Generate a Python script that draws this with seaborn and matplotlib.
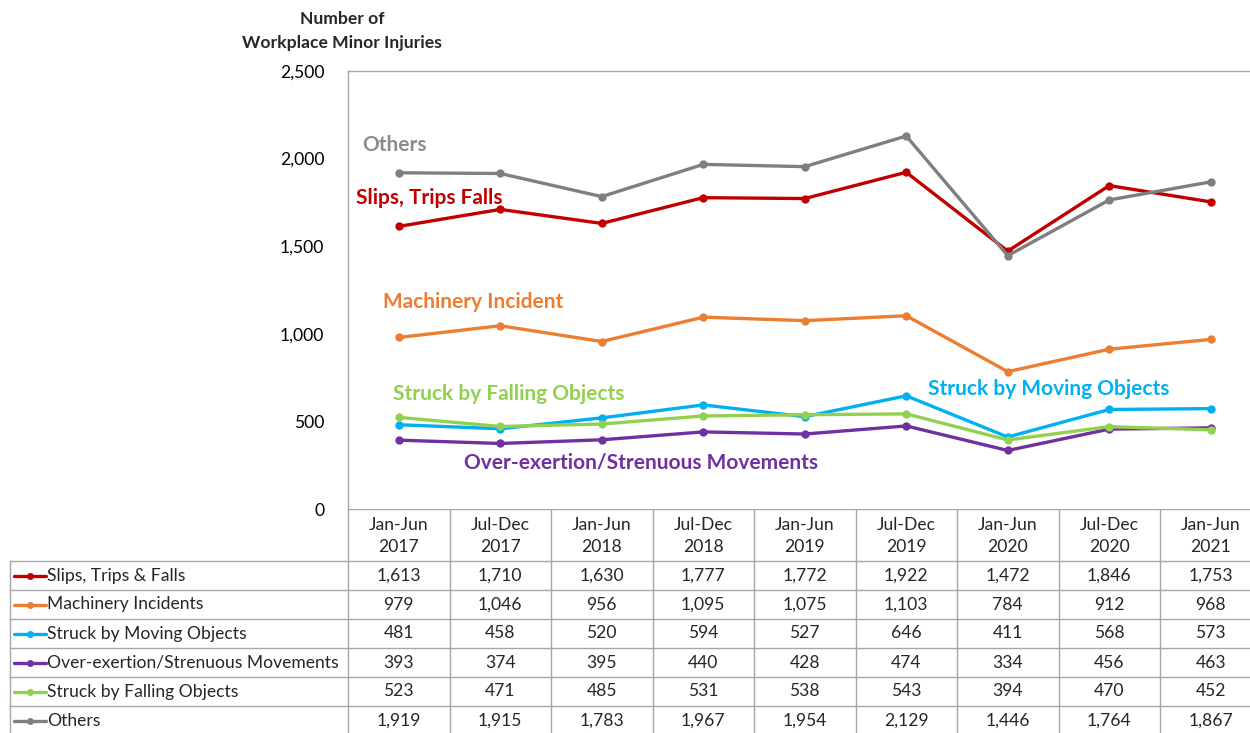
import numpy as np
import pandas as pd
import matplotlib
matplotlib.use('Agg')
import matplotlib.pyplot as plt
import seaborn as sns

sns.set_style('white')
plt.rcParams['font.family'] = ['Lato', 'DejaVu Sans']

# data
periods = ['Jan-Jun\n2017', 'Jul-Dec\n2017', 'Jan-Jun\n2018', 'Jul-Dec\n2018', 'Jan-Jun\n2019',
           'Jul-Dec\n2019', 'Jan-Jun\n2020', 'Jul-Dec\n2020', 'Jan-Jun\n2021']
series_names = ['Slips, Trips & Falls', 'Machinery Incidents', 'Struck by Moving Objects',
                'Over-exertion/Strenuous Movements', 'Struck by Falling Objects', 'Others']
slips = [1613, 1710, 1630, 1777, 1772, 1922, 1472, 1846, 1753]
machinery = [979, 1046, 956, 1095, 1075, 1103, 784, 912, 968]
moving = [481, 458, 520, 594, 527, 646, 411, 568, 573]
overexertion = [393, 374, 395, 440, 428, 474, 334, 456, 463]
falling = [523, 471, 485, 531, 538, 543, 394, 470, 452]
others = [1919, 1915, 1783, 1967, 1954, 2129, 1446, 1764, 1867]
colors = ['#C00000', '#ED7D31', '#00B0F0', '#7030A0', '#92D050', '#7F7F7F']

values = [slips, machinery, moving, overexertion, falling, others]
df = pd.DataFrame({
    'idx': np.tile(np.arange(len(periods)), len(series_names)),
    'series': np.repeat(series_names, len(periods)),
    'value': np.concatenate(values),
})

# in-chart labels: (text, color, x, y)
labels = [('Others', '#8C8C8C', -0.36, 2078),
          ('Slips, Trips Falls', '#C00000', -0.42, 1775),
          ('Machinery Incident', '#ED7D31', -0.155, 1181),
          ('Struck by Falling Objects', '#92D050', -0.057, 656),
          ('Struck by Moving Objects', '#00B0F0', 5.214, 685),
          ('Over-exertion/Strenuous Movements', '#7030A0', 0.643, 268)]

W, H = 1250, 733
fig = plt.figure(figsize=(W / 100, H / 100), dpi=100)

# layout in pixels
plot_l, plot_t, plot_b = 348, 71, 509
col_w = 101.5
n = len(periods)
plot_r = plot_l + n * col_w
grid_c = '#A6A6A6'
fs = 12.6

ax = fig.add_axes([plot_l / W, 1 - plot_b / H, (plot_r - plot_l) / W, (plot_b - plot_t) / H])
sns.lineplot(data=df, x='idx', y='value', hue='series', hue_order=series_names,
             palette=colors, marker='o', markersize=6, markeredgewidth=0,
             linewidth=2.4, legend=False, ax=ax)
ax.set_xlim(-0.5, n - 0.5)
ax.set_ylim(0, 2500)
ax.set_yticks([0, 500, 1000, 1500, 2000, 2500])
ax.set_yticklabels(['0', '500', '1,000', '1,500', '2,000', '2,500'])
ax.set_xticks([])
ax.set_xlabel('')
ax.set_ylabel('')
ax.tick_params(axis='y', labelsize=fs, length=0, pad=17, colors='#000000')
for s in ['left', 'top']:
    ax.spines[s].set_color(grid_c)
    ax.spines[s].set_linewidth(1)
ax.spines['right'].set_visible(False)
ax.spines['bottom'].set_visible(False)

for txt, c, x, y in labels:
    ax.text(x, y, txt, color=c, fontsize=15, fontweight='bold', ha='left', va='center')

fig.text(342 / W, 1 - 31 / H, 'Number of\nWorkplace Minor Injuries', ha='center', va='center',
         fontsize=12.6, fontweight='bold', linespacing=1.6)

# table overlay in pixel coords
tab = fig.add_axes([0, 0, 1, 1], zorder=-1)
tab.set_xlim(0, W)
tab.set_ylim(H, 0)
tab.axis('off')

row_h = 29
row_top = 561
rows_bottom = row_top + row_h * len(series_names)
tab.plot([plot_l, W], [plot_b, plot_b], color=grid_c, lw=1)
tab.plot([plot_l, plot_l], [plot_b, rows_bottom], color=grid_c, lw=1)
for i in range(1, n + 1):
    x = plot_l + i * col_w
    tab.plot([x, x], [plot_b, rows_bottom], color=grid_c, lw=1)
for j in range(len(series_names) + 1):
    y = row_top + j * row_h
    tab.plot([10, W], [y, y], color=grid_c, lw=1)
tab.plot([10, 10], [row_top, rows_bottom], color=grid_c, lw=1)

for i, p in enumerate(periods):
    tab.text(plot_l + (i + 0.5) * col_w, 536, p, ha='center', va='center',
             fontsize=fs, linespacing=1.5)

for j, (name, vals, c) in enumerate(zip(series_names, values, colors)):
    yc = row_top + (j + 0.5) * row_h
    tab.plot([14, 46], [yc, yc], color=c, lw=2.4)
    tab.plot([30], [yc], marker='o', color=c, markersize=5, markeredgewidth=0)
    tab.text(47, yc, name, ha='left', va='center', fontsize=fs)
    for i, v in enumerate(vals):
        tab.text(plot_l + (i + 0.5) * col_w, yc, f'{v:,}', ha='center', va='center', fontsize=fs)

fig.savefig('out.png', dpi=100)
